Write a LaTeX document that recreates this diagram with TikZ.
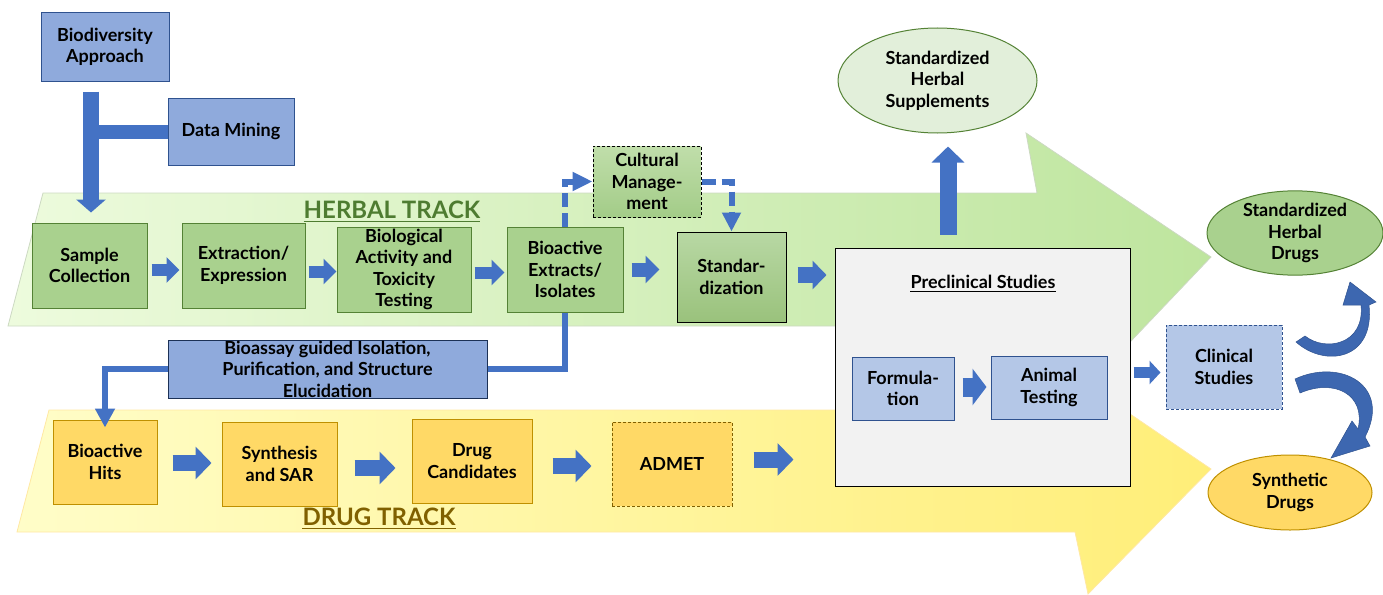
\documentclass[tikz,border=0pt]{standalone}
\usepackage{fontspec}
\setmainfont{Lato}
\usetikzlibrary{arrows.meta,shapes.geometric,calc}
\definecolor{blueA}{HTML}{4472C4}
\definecolor{blueD}{HTML}{2F528F}
\definecolor{blueBox}{HTML}{8FAADC}
\definecolor{blueLt}{HTML}{B4C7E7}
\definecolor{greenBox}{HTML}{A9D18E}
\definecolor{greenD}{HTML}{548235}
\definecolor{greenLt}{HTML}{E2EFDA}
\definecolor{yelBox}{HTML}{FFD966}
\definecolor{yelD}{HTML}{BF9000}
\definecolor{herbTxt}{HTML}{4E7C31}
\definecolor{drugTxt}{HTML}{806000}
\definecolor{preFill}{HTML}{F2F2F2}
\definecolor{trkGL}{HTML}{EDFBDD}
\definecolor{trkGR}{HTML}{BEE59E}
\definecolor{trkYL}{HTML}{FFFDC8}
\definecolor{trkYR}{HTML}{FFEE78}
\definecolor{stdT}{HTML}{B8D8A4}
\definecolor{stdB}{HTML}{9AC27C}
\definecolor{cmT}{HTML}{C0DEAA}
\definecolor{cmB}{HTML}{A3CC88}
\begin{document}
\begin{tikzpicture}[x=1pt,y=-1pt,
  txt/.style={font=\bfseries\fontsize{18}{21.5}\selectfont, text=black, align=center},
  wh/.style 2 args={minimum width=#1pt, minimum height=#2pt},
  box/.style={txt, rectangle, inner sep=0pt, line width=1pt},
  bluebox/.style={box, fill=blueBox, draw=blueD},
  ltbluebox/.style={box, fill=blueLt, draw=blueD},
  greenbox/.style={box, fill=greenBox, draw=greenD},
  yelbox/.style={box, fill=yelBox, draw=yelD},
  dashbd/.style={dash pattern=on 3pt off 2pt},
  hb/.style={blueA, line width=12pt, -{Triangle[width=25pt,length=13pt]}},
  db/.style={blueA, line width=16pt, -{Triangle[width=32pt,length=16pt]}},
  thinconn/.style={blueA, line width=6pt},
  dconn/.style={blueA, line width=6pt, dash pattern=on 14pt off 6pt},
]
\useasboundingbox (0,0) rectangle (1383,594);

% ---------- tracks ----------
\draw[draw=greenD!30, line width=0.8pt, left color=trkGL, right color=trkGR]
  (43,193) -- (1037,193) -- (1026,133) -- (1211,257) -- (1092,382) -- (1080,326) -- (8,326) -- cycle;
\draw[draw=yelBox!60, line width=0.8pt, left color=trkYL, right color=trkYR]
  (49,410) -- (1038,410) -- (1027,344) -- (1211,469) -- (1088,594) -- (1075,532) -- (17,532) -- cycle;

% ---------- track titles ----------
\node[inner sep=0pt, font=\bfseries\fontsize{24}{28}\selectfont, text=herbTxt] (ht) at (392,210) {HERBAL TRACK};
\draw[herbTxt, line width=1.6pt] ([yshift=-3pt]ht.base west) -- ([yshift=-3pt]ht.base east);
\node[inner sep=0pt, font=\bfseries\fontsize{24}{28}\selectfont, text=drugTxt] (dt) at (379,517) {DRUG TRACK};
\draw[drugTxt, line width=1.6pt] ([yshift=-3pt]dt.base west) -- ([yshift=-3pt]dt.base east);

% ---------- top blue boxes ----------
\node[bluebox, wh={128}{68}] (bio) at (105,47) {Biodiversity\\Approach};
\node[bluebox, wh={126}{67}] (dm) at (231,131.5) {Data Mining};

% ---------- herbal boxes ----------
\node[greenbox, wh={115}{85}] (sc) at (89.5,265.5) {Sample\\Collection};
\node[greenbox, wh={123}{85}] (ee) at (243.5,265.5) {Extraction/\\Expression};
\node[greenbox, wh={134}{85}] (bat) at (404,269.5) {Biological\\Activity and\\Toxicity\\Testing};
\node[greenbox, wh={116}{85}] (bex) at (565,269.5) {Bioactive\\Extracts/\\Isolates};
\node[box, wh={109}{90}, draw=black, top color=stdT, bottom color=stdB] (std) at (731.5,277) {Standar-\\dization};
\node[box, wh={108}{71}, draw=black, dashbd, top color=cmT, bottom color=cmB] (cm) at (647,181.5) {Cultural\\Manage-\\ment};

% ---------- drug boxes ----------
\node[yelbox, wh={104}{84}] (hits) at (105,462) {Bioactive\\Hits};
\node[yelbox, wh={115}{84}] (sar) at (279.5,464) {Synthesis\\and SAR};
\node[yelbox, wh={120}{84}] (dc) at (472,461) {Drug\\Candidates};
\node[box, wh={120}{84}, fill=yelBox, draw=drugTxt, dashbd] (admet) at (672,464) {ADMET};

% ---------- bioassay ----------
\node[box, wh={319}{58}, fill=blueBox, draw=blueD!60!black] (bas) at (327.5,369) {Bioassay guided Isolation,\\Purification, and Structure\\Elucidation};
\draw[thinconn] (bex.south) |- (bas.east);
\draw[thinconn, -{Triangle[width=19pt,length=19pt]}, shorten >=-8pt] (bas.west) -| (hits.north);

% ---------- thick connector Biodiversity / Data mining -> Sample collection ----------
\coordinate (bstart) at ($(sc.north)+(1.5,-131)$);
\coordinate (bend) at ($(sc.north)+(1.5,-10)$);
\draw[blueA, line width=14pt] (dm.west) -- (dm.west -| bstart);
\draw[blueA, line width=16pt, -{Triangle[width=29pt,length=13pt]}] (bstart) -- (bend);

% ---------- dashed connectors around Cultural Management ----------
\draw[dconn, -{Triangle[width=18pt,length=20pt]}] (bex.north) |- (cm.west);
\draw[dconn, -{Triangle[width=18pt,length=19pt]}] (cm.east) -| (std.north);

% ---------- preclinical ----------
\node[rectangle, wh={295}{238}, fill=preFill, draw=black, line width=1pt] (pre) at (982.5,367) {};
\node[txt, inner sep=0pt] (pret) at ($(pre.north)+(0.5,34)$) {Preclinical Studies};
\draw[black, line width=1.2pt] ([yshift=-3pt]pret.base west) -- ([yshift=-3pt]pret.base east);
\node[ltbluebox, wh={102}{63}] (form) at (903,388.5) {Formula-\\tion};
\node[ltbluebox, wh={116}{63}] (anim) at (1049,387.5) {Animal\\Testing};
\node[ltbluebox, wh={116}{84}, dashbd] (clin) at (1224,367) {Clinical\\Studies};

% ---------- outcomes ----------
\node[txt, ellipse, inner sep=0pt, wh={199}{105}, fill=greenLt, draw=greenD, line width=1pt] (supp) at (937.5,80.5) {Standardized\\Herbal\\Supplements};
\node[txt, ellipse, inner sep=0pt, wh={176}{76}, fill=greenBox, draw=greenD, line width=1pt] (shd) at (1295,233) {Standardized\\Herbal\\Drugs};
\node[txt, ellipse, inner sep=0pt, wh={164}{75}, fill=yelBox, draw=yelD, line width=1pt] (syn) at (1290,492.5) {Synthetic\\Drugs};

% ---------- block arrows ----------
\draw[hb] ($(sc.east)+(4,4.5)$) -- ($(ee.west)+(-2,4.5)$);
\draw[hb] ($(ee.east)+(3,6)$) -- ($(bat.west)+(0,2)$);
\draw[hb] ($(bat.east)+(3,3)$) -- ($(bex.west)+(-2,3)$);
\draw[blueA, line width=14pt, -{Triangle[width=27pt,length=14pt]}] ($(bex.east)+(8,0)$) -- ($(std.west)+(-17,-7.5)$);
\draw[blueA, line width=16pt, -{Triangle[width=28pt,length=14pt]}] ($(std.east)+(11,-2)$) -- ($(pre.west |- std.east)+(-8,-2)$);
\draw[blueA, line width=17pt, -{Triangle[width=32pt,length=16pt]}] ($(pre.north)+(-34.5,-13)$) -- ($(pre.north -| supp.south)+(10.5,-101)$);

\draw[db] ($(hits.east)+(15,1)$) -- ($(sar.west)+(-10,-1)$);
\draw[db] ($(sar.east)+(17,4)$) -- ($(dc.west)+(-16,7)$);
\draw[db] ($(dc.east)+(20,5)$) -- ($(admet.west)+(-20,2)$);
\coordinate (dfree) at ($(admet.east)+(61,-4.5)$);
\draw[db] ($(admet.east)+(21,-4.5)$) -- (dfree);

\draw[blueA, line width=19pt, -{Triangle[width=36pt,length=14pt]}] ($(form.east)+(8,-1.5)$) -- ($(anim.west)+(-4,-0.5)$);
\draw[blueA, line width=11pt, -{Triangle[width=23pt,length=11pt]}] ($(pre.east)+(3,5.5)$) -- ($(clin.west)+(-5,5.5)$);

% ---------- curved arrows ----------
\fill[blueA!90!black, draw=blueD, line width=0.5pt]
  (1296,342) .. controls (1325,368) and (1375,360) .. (1369,305)
  -- (1376,302) -- (1350,282) -- (1343,305) -- (1361,305)
  .. controls (1365,345) and (1325,352) .. (1305,336) -- cycle;
\fill[blueA!90!black, draw=blueD, line width=0.5pt]
  (1295,379) .. controls (1340,358) and (1392,385) .. (1365,437)
  -- (1370,446) -- (1331,458) -- (1352,421) -- (1358,429)
  .. controls (1366,395) and (1335,378) .. (1300,393) -- cycle;
\end{tikzpicture}
\end{document}
